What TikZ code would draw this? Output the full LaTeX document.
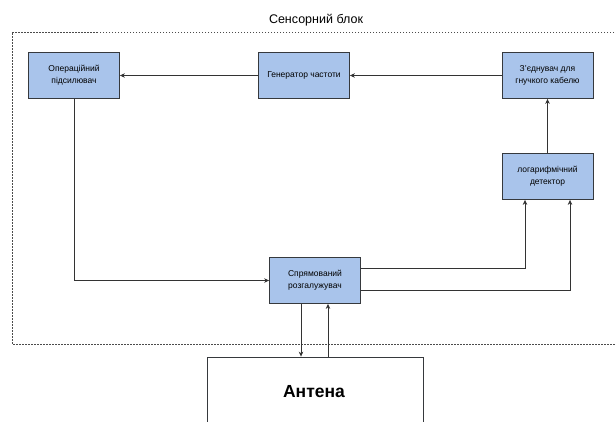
\documentclass[tikz,border=0pt]{standalone}
\usepackage{fontspec}
\setmainfont{Liberation Sans}
\usetikzlibrary{arrows.meta}
\definecolor{boxfill}{HTML}{A9C4EB}
\definecolor{boxline}{HTML}{36393D}
\definecolor{wire}{HTML}{333333}
\tikzset{
  blockbox/.style={draw=boxline, fill=boxfill, line width=0.8pt, minimum width=91pt, minimum height=46pt, align=center, font=\fontsize{8.5}{12}\selectfont, inner sep=1pt},
  wirearrow/.style={draw=wire, line width=0.7pt, -{Stealth[length=5pt,width=4.5pt]}},
  container/.style={draw=black!70, dashed, dash pattern=on 1.5pt off 1.5pt, line width=0.6pt}
}
\begin{document}
\begin{tikzpicture}[x=1pt,y=-1pt]
\useasboundingbox[fill=white] (0,0) rectangle (615,421);
% container
\coordinate (ctr) at (620,32);
\coordinate (ctl) at (12,32);
\coordinate (cbl) at (12,344);
\coordinate (cbr) at (620,344);
\draw[container] (ctr) -- (ctl) -- (cbl) -- (cbr);
\node[font=\fontsize{12.5}{14}\selectfont] (title) at (316,20) {Сенсорний блок};
% blocks
\node[blockbox] (amp) at (74,75.5) {Операційний\\підсилювач};
\node[blockbox] (gen) at (304,75.5) {Генератор частоти};
\node[blockbox] (conn) at (547.5,75.5) {З’єднувач для\\гнучкого кабелю};
\node[blockbox] (det) at (547.5,176.5) {логарифмічний\\детектор};
\node[blockbox] (spl) at (315,280.5) {Спрямований\\розгалужувач};
\node[draw=boxline, fill=white, line width=0.8pt, minimum width=216pt, minimum height=80pt] (ant) at (315,397) {};
\node[font=\fontsize{17.5}{20}\bfseries\selectfont] (antlabel) at (314,392) {Антена};
% connectors
\draw[wirearrow] (conn.west) -- (gen.east);
\draw[wirearrow] (gen.west) -- (amp.east);
\draw[wirearrow] (det.north) -- (conn.south);
\draw[wirearrow] (amp.south) |- (spl.west);
\draw[wirearrow] (spl.east |- 0,268) -| (det.south -| 525,0);
\draw[wirearrow] (spl.east |- 0,290) -| (det.south -| 570,0);
\draw[wirearrow] (spl.south -| 301,0) -- (ant.north -| 301,0);
\draw[wirearrow] (ant.north -| 328,0) -- (spl.south -| 328,0);
\end{tikzpicture}
\end{document}
